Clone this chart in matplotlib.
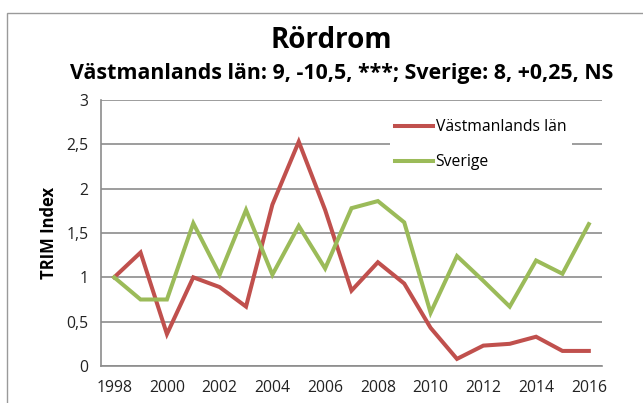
import matplotlib
matplotlib.use("Agg")
import matplotlib.pyplot as plt
from matplotlib.patches import Rectangle

plt.rcParams['font.family'] = ['Open Sans', 'DejaVu Sans']

years = list(range(1998, 2017))
vastmanland = [1.0, 1.28, 0.36, 1.0, 0.89, 0.67, 1.82, 2.53, 1.76, 0.85,
               1.17, 0.93, 0.43, 0.08, 0.23, 0.25, 0.33, 0.17, 0.17]
sverige = [1.0, 0.75, 0.75, 1.61, 1.03, 1.76, 1.03, 1.58, 1.10, 1.78,
           1.86, 1.62, 0.60, 1.24, 0.96, 0.67, 1.19, 1.04, 1.60]
ytick_vals = [0, 0.5, 1, 1.5, 2, 2.5, 3]
ytick_labels = ['0', '0,5', '1', '1,5', '2', '2,5', '3']

RED = '#C0504D'
GREEN = '#9BBB59'
GRID = '#8C8C8C'

fig = plt.figure(figsize=(6.43, 4.03), dpi=100)
fig.patches.append(Rectangle((7 / 643, -0.5), 2, 1.5 - 12.5 / 403,
                             transform=fig.transFigure, fill=False,
                             edgecolor='#9A9A9A', lw=1))

ax = fig.add_axes([101 / 643, 1 - 366 / 403, 501 / 643, 266 / 403])
x = list(range(len(years)))
ax.plot(x, vastmanland, color=RED, lw=2.9, label='Västmanlands län', solid_joinstyle='miter')
ax.plot(x, sverige, color=GREEN, lw=2.9, label='Sverige', solid_joinstyle='miter')

ax.set_xlim(-0.5, len(years) - 0.5)
ax.set_ylim(0, 3)
ax.set_yticks(ytick_vals)
ax.set_yticklabels(ytick_labels)
ax.set_xticks(x[::2])
ax.set_xticklabels([str(y) for y in years[::2]])
ax.tick_params(length=0, labelsize=11.3, colors='#222222', pad=9)
ax.tick_params(axis='x', pad=10)
ax.grid(axis='y', color=GRID, lw=1.2)
ax.set_axisbelow(True)
for s in ['top', 'right']:
    ax.spines[s].set_visible(False)
for s in ['left', 'bottom']:
    ax.spines[s].set_color(GRID)
    ax.spines[s].set_linewidth(1.2)

ax.set_ylabel('TRIM Index', fontsize=12, fontweight='bold', labelpad=6)

leg = ax.legend(loc='upper left', bbox_to_anchor=(390 / 643, 1 - 114 / 403),
                bbox_transform=fig.transFigure, frameon=True, fancybox=False,
                edgecolor='none', facecolor='white', framealpha=1,
                fontsize=11.3, handlelength=2.4, handletextpad=0.15,
                labelspacing=1.2, borderaxespad=0, borderpad=0.35)

fig.text(331 / 643, 1 - 40 / 403, 'Rördrom', ha='center', va='center',
         fontsize=20, fontweight='bold')
fig.text(342 / 643, 1 - 73 / 403,
         'Västmanlands län: 9, -10,5, ***; Sverige: 8, +0,25, NS',
         ha='center', va='center', fontsize=15.4, fontweight='bold')

fig.savefig('out.png', dpi=100)
